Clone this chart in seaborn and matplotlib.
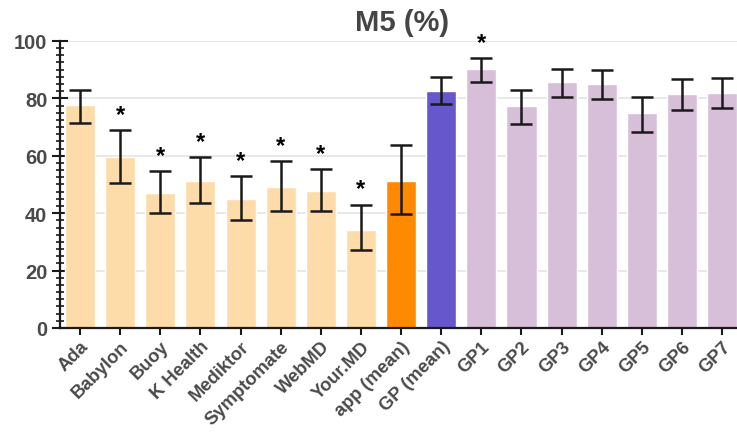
import numpy as np
import pandas as pd
import seaborn as sns
import matplotlib.pyplot as plt
from matplotlib.ticker import MultipleLocator

plt.switch_backend('Agg')

# values
names = ["Ada", "Babylon", "Buoy", "K Health", "Mediktor", "Symptomate", "WebMD",
         "Your.MD", "app (mean)", "GP (mean)", "GP1", "GP2", "GP3", "GP4", "GP5", "GP6", "GP7"]
means = [77.7, 59.6, 47.0, 51.2, 44.8, 49.0, 47.6, 34.3, 51.3, 82.5,
         90.1, 77.5, 85.6, 85.0, 74.9, 81.5, 82.0]
err_low = [71.4, 50.6, 40.2, 43.6, 37.6, 40.8, 40.8, 27.1, 39.8, 78.0,
           85.6, 71.1, 80.5, 79.9, 68.4, 76.1, 76.7]
err_high = [82.9, 68.9, 54.7, 59.5, 53.0, 58.2, 55.3, 43.0, 63.8, 87.6,
            94.0, 82.9, 90.2, 89.8, 80.5, 86.8, 87.2]
significant = [False, True, True, True, True, True, True, True, False, False,
               True, False, False, False, False, False, False]
colors = ["#fedcaa"] * 8 + ["#ff8a00", "#6657cc"] + ["#d7bfda"] * 7

df = pd.DataFrame({"name": names, "value": means})

sns.set_style("white")
plt.rcParams['font.family'] = ['Liberation Sans', 'DejaVu Sans']

fig = plt.figure(figsize=(7.37, 4.39), dpi=100)
ax = fig.add_axes([0.0814, 0.2506, 0.9186, 0.6538])

for y in [20, 40, 60, 80, 100]:
    ax.axhline(y, color="#e4e4e4", lw=1.2, zorder=0)

sns.barplot(data=df, x="name", y="value", hue="name", palette=colors,
            legend=False, width=0.75, saturation=1, ax=ax, zorder=2)

xs = ax.get_xticks()
m = np.array(means)
yerr = [m - np.array(err_low), np.array(err_high) - m]
ax.errorbar(xs, m, yerr=yerr, fmt="none", ecolor="#1a1a1a", elinewidth=1.8,
            capsize=8, capthick=1.8, zorder=3)

for x, hi, sig in zip(xs, err_high, significant):
    if sig:
        ax.annotate("*", (x, hi), xytext=(0, 3), textcoords="offset points",
                    ha="center", va="bottom", fontsize=17, fontweight="bold",
                    color="black")

ax.set_ylim(0, 100)
ax.set_xlim(-0.5, 16.37)
ax.yaxis.set_major_locator(MultipleLocator(20))
ax.yaxis.set_minor_locator(MultipleLocator(2.5))

sns.despine(ax=ax)
for s in ["left", "bottom"]:
    ax.spines[s].set_linewidth(1.6)
    ax.spines[s].set_color("#1a1a1a")

ax.tick_params(axis="y", which="major", direction="inout", length=12, width=1.5,
               color="#1a1a1a", labelsize=14.5, labelcolor="#4a4a4a", pad=3, left=True)
ax.tick_params(axis="y", which="minor", direction="inout", length=6, width=1.2,
               color="#1a1a1a", left=True)
ax.tick_params(axis="x", which="major", direction="inout", length=10, width=1.5,
               color="#1a1a1a", labelsize=13.2, labelcolor="#4a4a4a", pad=2, bottom=True)
for lbl in ax.get_yticklabels():
    lbl.set_fontweight("bold")
ax.set_xticks(xs)
ax.set_xticklabels(names, rotation=45, ha="right", rotation_mode="anchor",
                   fontweight="bold")

ax.set_xlabel("")
ax.set_ylabel("")
fig.text(0.545, 0.948, "M5 (%)", ha="center", va="center", fontsize=21,
         fontweight="bold", color="#454545")

fig.savefig("out.png", dpi=100)
